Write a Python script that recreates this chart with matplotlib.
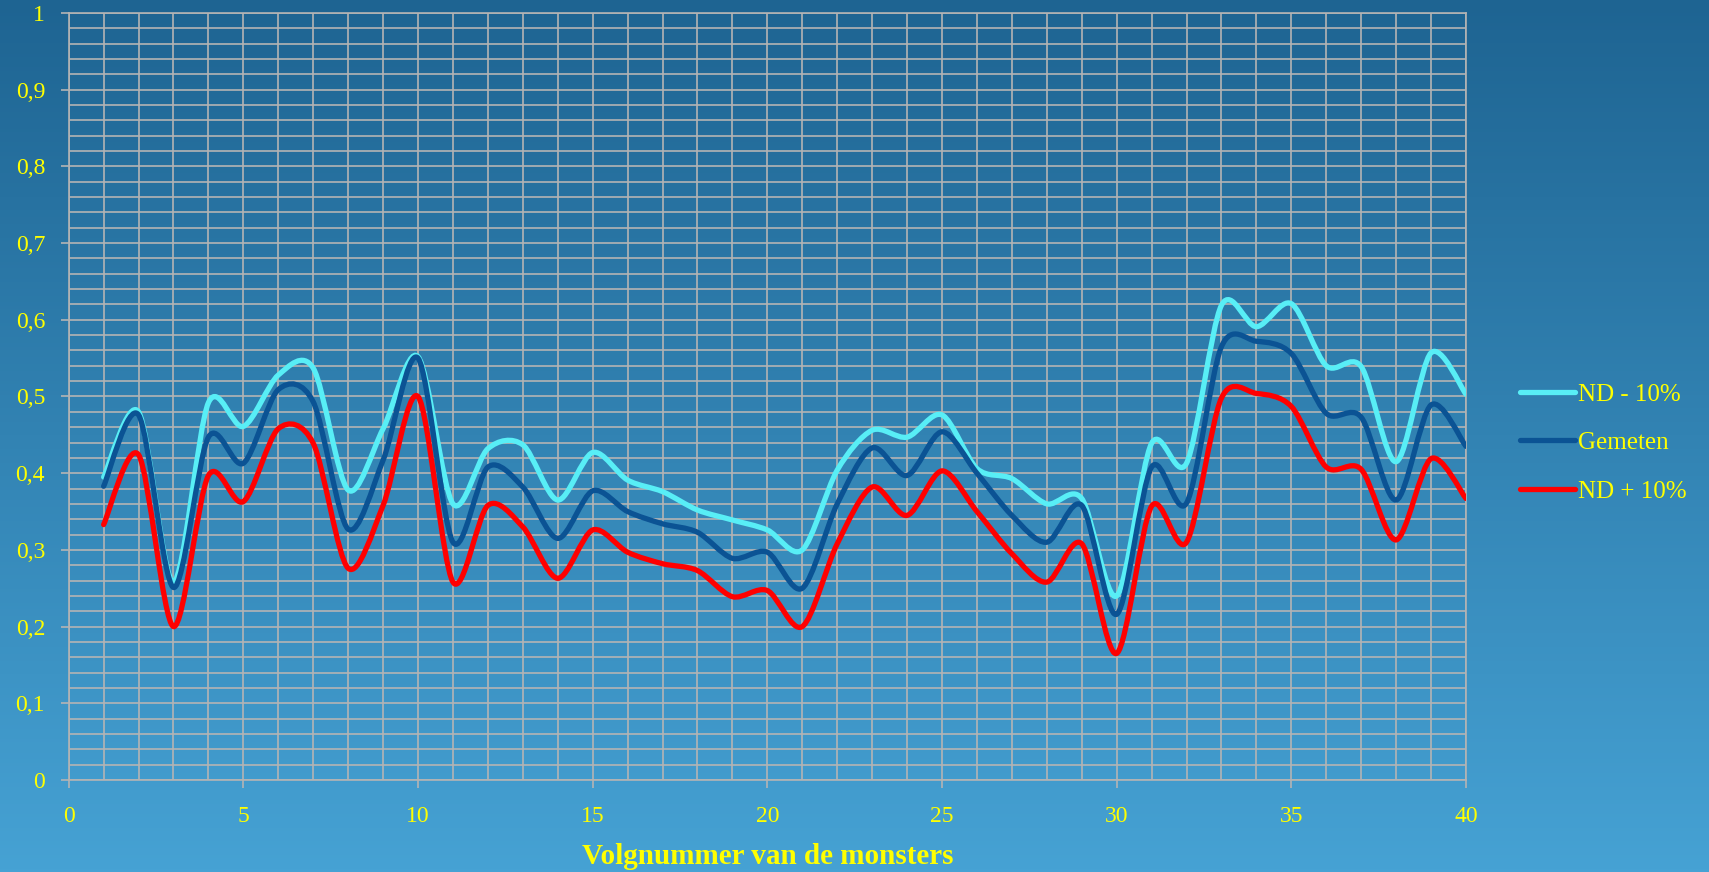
import numpy as np
import matplotlib
matplotlib.use("Agg")
import matplotlib.pyplot as plt
from matplotlib.path import Path
from matplotlib.patches import PathPatch
from matplotlib.lines import Line2D
from matplotlib.ticker import FixedLocator, MultipleLocator

# ---- data -------------------------------------------------------------
samples = list(range(1, 41))

nd_min10 = [0.395, 0.480, 0.258, 0.492, 0.461, 0.528, 0.537, 0.378, 0.458, 0.552,
            0.360, 0.432, 0.437, 0.365, 0.427, 0.391, 0.376, 0.352, 0.339, 0.326,
            0.300, 0.404, 0.456, 0.447, 0.476, 0.406, 0.393, 0.360, 0.367, 0.240,
            0.439, 0.413, 0.619, 0.591, 0.621, 0.540, 0.539, 0.415, 0.557, 0.503]

gemeten = [0.383, 0.476, 0.251, 0.447, 0.413, 0.509, 0.493, 0.327, 0.417, 0.550,
           0.310, 0.408, 0.382, 0.315, 0.377, 0.350, 0.334, 0.323, 0.289, 0.297,
           0.250, 0.360, 0.433, 0.397, 0.454, 0.400, 0.345, 0.310, 0.358, 0.216,
           0.408, 0.361, 0.565, 0.572, 0.556, 0.478, 0.473, 0.365, 0.489, 0.435]

nd_plus10 = [0.333, 0.424, 0.200, 0.397, 0.363, 0.458, 0.439, 0.276, 0.358, 0.500,
             0.258, 0.358, 0.330, 0.263, 0.326, 0.297, 0.282, 0.273, 0.239, 0.247,
             0.200, 0.308, 0.382, 0.345, 0.403, 0.350, 0.295, 0.258, 0.308, 0.165,
             0.357, 0.310, 0.498, 0.504, 0.487, 0.408, 0.405, 0.313, 0.419, 0.367]

series_names = ["ND - 10%", "Gemeten", "ND + 10%"]
series_colors = ["#58EEF6", "#0B5394", "#FF0000"]

x_ticks = [0, 5, 10, 15, 20, 25, 30, 35, 40]
x_tick_labels = ["0", "5", "10", "15", "20", "25", "30", "35", "40"]
y_ticks = [0, 0.1, 0.2, 0.3, 0.4, 0.5, 0.6, 0.7, 0.8, 0.9, 1.0]
y_tick_labels = ["0", "0,1", "0,2", "0,3", "0,4", "0,5", "0,6", "0,7", "0,8", "0,9", "1"]
x_title = "Volgnummer van de monsters"

TEXT = "#FFFF00"
GRID = "#B4B4B4"
FONT = "Liberation Serif"
SMOOTH = 0.15  # tangent scale of the smoothed lines


def smooth_path(xs, ys):
    """Cubic Bezier path passing through every point (cardinal-spline tangents)."""
    pts = np.column_stack([xs, ys]).astype(float)
    n = len(pts)
    verts = [pts[0]]
    codes = [Path.MOVETO]
    for i in range(n - 1):
        p0 = pts[i - 1] if i > 0 else pts[i]
        p1 = pts[i]
        p2 = pts[i + 1]
        p3 = pts[i + 2] if i + 2 < n else pts[i + 1]
        c1 = p1 + (p2 - p0) * SMOOTH
        c2 = p2 - (p3 - p1) * SMOOTH
        verts += [c1, c2, p2]
        codes += [Path.CURVE4] * 3
    return Path(verts, codes)


W, H = 1709, 872
fig = plt.figure(figsize=(W / 100, H / 100), dpi=100)

# gradient backdrop
bg = fig.add_axes([0, 0, 1, 1], zorder=-10)
top = np.array([30, 100, 146]) / 255.0
bot = np.array([70, 162, 212]) / 255.0
t = np.linspace(0, 1, 256)[:, None]
col = top[None, :] * (1 - t) + bot[None, :] * t
grad = np.repeat(col[:, None, :], 8, axis=1)
bg.imshow(grad, aspect="auto", extent=[0, 1, 0, 1], origin="upper")
bg.set_axis_off()

ax = fig.add_axes([68.7 / W, 1 - 780 / H, (1466 - 68.7) / W, (780 - 13) / H])
ax.set_facecolor("none")
ax.set_xlim(0, 40)
ax.set_ylim(0, 1)

# grid
ax.xaxis.set_major_locator(FixedLocator(x_ticks))
ax.xaxis.set_minor_locator(MultipleLocator(1))
ax.yaxis.set_major_locator(FixedLocator(y_ticks))
ax.yaxis.set_minor_locator(MultipleLocator(0.02))
ax.grid(True, which="both", color=GRID, linewidth=1.2)
ax.set_axisbelow(True)
for s in ax.spines.values():
    s.set_color(GRID)
    s.set_linewidth(1.2)

ax.set_xticklabels(x_tick_labels)
ax.set_yticklabels(y_tick_labels)
ax.tick_params(which="major", length=6, width=1.2, color=GRID, labelcolor=TEXT,
               labelsize=17)
ax.tick_params(axis="y", which="major", pad=11)
ax.tick_params(axis="x", which="major", pad=13)
ax.tick_params(which="minor", length=0)
for lab in ax.get_xticklabels() + ax.get_yticklabels():
    lab.set_fontfamily(FONT)

# series
for vals, name, c in zip([nd_min10, gemeten, nd_plus10], series_names, series_colors):
    patch = PathPatch(smooth_path(samples, vals), facecolor="none", edgecolor=c,
                      linewidth=3.8, capstyle="round", joinstyle="round", zorder=3)
    ax.add_patch(patch)

handles = [Line2D([], [], color=c, linewidth=3.8, solid_capstyle="round")
           for c in series_colors]
leg = fig.legend(handles, series_names, loc="center left",
                 bbox_to_anchor=(1497 / W, 1 - 443 / H), frameon=False,
                 handlelength=2.2, handletextpad=0.15, labelspacing=1.05,
                 prop={"family": FONT, "size": 18})
for txt in leg.get_texts():
    txt.set_color(TEXT)

ax.set_xlabel(x_title, color=TEXT, fontsize=21, fontweight="bold", fontfamily=FONT)
ax.xaxis.set_label_coords(0.5, -0.1)
ax.xaxis.label.set_va("center")

fig.savefig("out.png", dpi=100)
